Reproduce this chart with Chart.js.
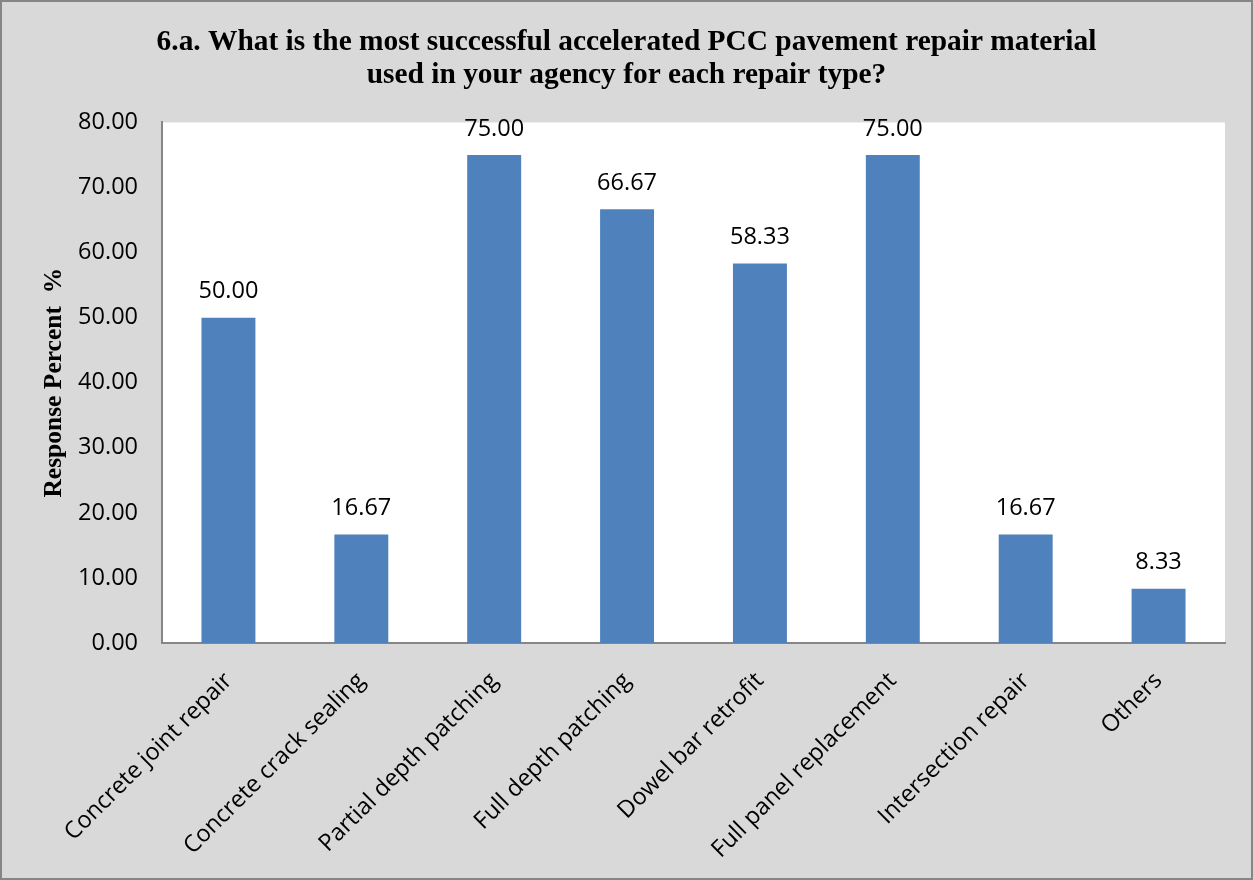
<!DOCTYPE html>
<html>
<head>
<meta charset="utf-8">
<script src="https://cdn.jsdelivr.net/npm/chart.js@4.4.1/dist/chart.umd.min.js"></script>
<style>
  html, body { margin: 0; padding: 0; background: #d9d9d9; }
  #wrap { width: 1253px; height: 880px; }
</style>
</head>
<body>
<div id="wrap"><canvas id="chart" width="1253" height="880"></canvas></div>
<script>
/* data */
const categories = [
  'Concrete joint repair',
  'Concrete crack sealing',
  'Partial depth patching',
  'Full depth patching',
  'Dowel bar retrofit',
  'Full panel replacement',
  'Intersection repair',
  'Others'
];
const responsePercent = [50.00, 16.67, 75.00, 66.67, 58.33, 75.00, 16.67, 8.33];
const titleLines = [
  '6.a. What is the most successful accelerated PCC pavement repair material',
  'used in your agency for each repair type?'
];
const yAxisTitle = 'Response Percent  %';

/* gray page, white plot area, thin outer frame */
const backdrop = {
  id: 'backdrop',
  beforeDraw(chart) {
    const { ctx, chartArea: a } = chart;
    ctx.save();
    ctx.fillStyle = '#d9d9d9';
    ctx.fillRect(0, 0, chart.width, chart.height);
    ctx.fillStyle = '#ffffff';
    ctx.fillRect(a.left, a.top, a.right - a.left, a.bottom - a.top);
    ctx.strokeStyle = '#868686';
    ctx.lineWidth = 2;
    ctx.strokeRect(1, 1, chart.width - 2, chart.height - 2);
    ctx.restore();
  }
};

/* value labels above each bar */
const barValues = {
  id: 'barValues',
  afterDatasetsDraw(chart) {
    const { ctx } = chart;
    const meta = chart.getDatasetMeta(0);
    ctx.save();
    ctx.font = '23.5px "Open Sans"';
    ctx.fillStyle = '#000';
    ctx.textAlign = 'center';
    ctx.textBaseline = 'middle';
    meta.data.forEach((bar, i) => {
      ctx.fillText(responsePercent[i].toFixed(2), bar.x, bar.y - 26);
    });
    ctx.restore();
  }
};

new Chart(document.getElementById('chart'), {
  type: 'bar',
  data: {
    labels: categories,
    datasets: [{
      data: responsePercent,
      backgroundColor: '#4f81bd',
      borderWidth: 0,
      barPercentage: 0.406,
      categoryPercentage: 1
    }]
  },
  options: {
    responsive: false,
    animation: false,
    layout: { padding: { left: 28, right: 28, top: 0, bottom: 0 } },
    plugins: {
      legend: { display: false },
      tooltip: { enabled: false },
      title: {
        display: true,
        text: titleLines,
        color: '#000',
        font: { family: '"Liberation Serif"', size: 29.4, weight: 'bold', lineHeight: 1.13 },
        padding: { top: 26, bottom: 30 }
      }
    },
    scales: {
      x: {
        grid: { display: false },
        border: { display: true, color: '#868686', width: 2 },
        ticks: {
          color: '#000',
          font: { family: '"Open Sans"', size: 23.5 },
          minRotation: 45,
          maxRotation: 45,
          padding: 16,
          autoSkip: false
        },
        afterFit(scale) { scale.height = 237; }
      },
      y: {
        min: 0,
        max: 80,
        grid: { display: false },
        border: { display: true, color: '#868686', width: 2 },
        ticks: {
          stepSize: 10,
          color: '#000',
          font: { family: '"Open Sans"', size: 23.5 },
          padding: 16,
          callback: v => v.toFixed(2)
        },
        title: {
          display: true,
          text: yAxisTitle,
          color: '#000',
          font: { family: '"Liberation Serif"', size: 25.5, weight: 'bold' },
          padding: { top: 11, bottom: 0 }
        },
        afterFit(scale) { scale.width = 134; }
      }
    }
  },
  plugins: [backdrop, barValues]
});
</script>
</body>
</html>
